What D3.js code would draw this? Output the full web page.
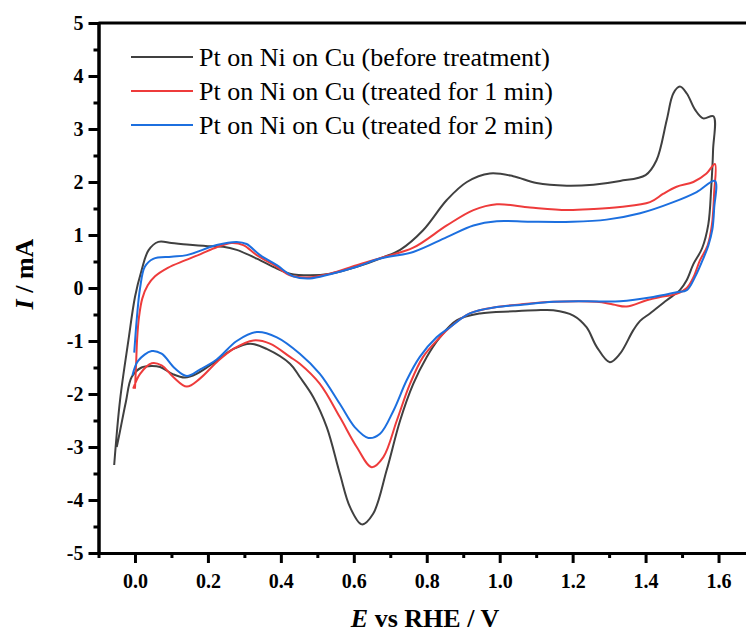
<!DOCTYPE html>
<html>
<head>
<meta charset="utf-8">
<script src="https://cdn.jsdelivr.net/npm/d3@7"></script>
<style>
  html, body { margin: 0; padding: 0; background: #fff; }
  svg { display: block; }
</style>
</head>
<body>
<svg id="chart" width="746" height="636"></svg>
<script>
// Cyclic voltammograms, [potential E (V vs RHE), current I (mA)],
// anodic sweep first, then the cathodic sweep back.
const beforeTreatment = [
  [-0.057,-3.34],[-0.041,-2.12],[-0.018,-0.99],[0.0,-0.17],[0.018,0.33],[0.037,0.71],
  [0.064,0.87],[0.10,0.85],[0.142,0.82],[0.20,0.79],[0.242,0.78],[0.279,0.72],
  [0.334,0.555],[0.389,0.366],[0.425,0.27],[0.48,0.24],[0.535,0.27],[0.608,0.40],
  [0.681,0.58],[0.727,0.72],[0.79,1.09],[0.855,1.66],[0.91,2.0],[0.973,2.16],
  [1.037,2.11],[1.101,1.98],[1.184,1.93],[1.257,1.95],[1.33,2.02],[1.40,2.13],
  [1.43,2.41],[1.458,3.17],[1.476,3.67],[1.494,3.80],[1.513,3.67],[1.536,3.36],
  [1.558,3.2],[1.586,3.24],
  [1.585,2.6],[1.58,1.9],[1.572,1.2],[1.555,0.75],[1.531,0.45],[1.513,0.15],
  [1.494,-0.04],[1.458,-0.23],[1.412,-0.48],[1.385,-0.62],[1.366,-0.80],[1.33,-1.24],
  [1.302,-1.40],[1.266,-1.11],[1.238,-0.74],[1.202,-0.52],[1.147,-0.42],[1.10,-0.42],
  [1.037,-0.44],[0.946,-0.48],[0.882,-0.61],[0.836,-0.93],[0.80,-1.30],[0.763,-1.81],
  [0.727,-2.50],[0.69,-3.44],[0.653,-4.26],[0.622,-4.46],[0.59,-4.14],[0.562,-3.51],
  [0.526,-2.63],[0.489,-2.06],[0.452,-1.68],[0.425,-1.43],[0.361,-1.15],[0.316,-1.05],
  [0.27,-1.15],[0.224,-1.37],[0.169,-1.62],[0.137,-1.69],[0.105,-1.63],[0.069,-1.49],
  [0.046,-1.47],[0.018,-1.50],[-0.009,-1.68],[-0.025,-2.15],[-0.041,-2.70],[-0.05,-3.0]
];
const treated1min = [
  [0.0,-1.90],[0.003,-1.45],[0.006,-0.95],[0.011,-0.55],[0.02,-0.2],[0.035,0.05],
  [0.055,0.22],[0.09,0.38],[0.137,0.52],[0.18,0.64],[0.224,0.77],[0.265,0.85],
  [0.297,0.81],[0.334,0.62],[0.389,0.40],[0.425,0.24],[0.471,0.20],[0.535,0.27],
  [0.608,0.43],[0.681,0.58],[0.763,0.76],[0.855,1.18],[0.928,1.47],[0.992,1.58],
  [1.083,1.52],[1.184,1.47],[1.257,1.49],[1.33,1.53],[1.412,1.62],[1.449,1.78],
  [1.485,1.91],[1.531,2.0],[1.567,2.16],[1.59,2.34],
  [1.588,1.8],[1.582,1.2],[1.57,0.8],[1.549,0.52],[1.531,0.2],[1.513,0.0],
  [1.485,-0.11],[1.44,-0.17],[1.403,-0.23],[1.348,-0.35],[1.311,-0.31],[1.266,-0.26],
  [1.147,-0.26],[1.056,-0.31],[0.992,-0.36],[0.918,-0.48],[0.864,-0.74],[0.836,-0.93],
  [0.79,-1.30],[0.754,-1.81],[0.718,-2.50],[0.681,-3.19],[0.649,-3.38],[0.608,-3.0],
  [0.562,-2.44],[0.507,-1.81],[0.452,-1.43],[0.425,-1.30],[0.37,-1.05],[0.325,-0.99],
  [0.27,-1.15],[0.224,-1.40],[0.178,-1.71],[0.142,-1.86],[0.105,-1.68],[0.073,-1.46],
  [0.046,-1.42],[0.014,-1.62],[-0.005,-1.90]
];
const treated2min = [
  [-0.002,-1.22],[0.005,-0.58],[0.014,0.0],[0.027,0.40],[0.05,0.55],[0.1,0.59],
  [0.142,0.62],[0.224,0.81],[0.279,0.87],[0.306,0.83],[0.343,0.62],[0.389,0.43],
  [0.434,0.22],[0.48,0.18],[0.535,0.26],[0.608,0.40],[0.672,0.555],[0.763,0.68],
  [0.855,0.96],[0.928,1.18],[0.992,1.26],[1.083,1.25],[1.2,1.25],[1.293,1.29],
  [1.385,1.41],[1.476,1.62],[1.54,1.81],[1.59,2.02],
  [1.588,1.5],[1.583,1.1],[1.572,0.8],[1.556,0.52],[1.535,0.2],[1.513,-0.04],
  [1.485,-0.08],[1.421,-0.17],[1.33,-0.25],[1.238,-0.25],[1.147,-0.26],[1.056,-0.32],
  [0.992,-0.36],[0.918,-0.48],[0.864,-0.74],[0.827,-0.93],[0.781,-1.30],[0.745,-1.74],
  [0.709,-2.31],[0.672,-2.75],[0.64,-2.83],[0.603,-2.63],[0.562,-2.19],[0.507,-1.62],
  [0.452,-1.24],[0.389,-0.93],[0.334,-0.83],[0.279,-1.00],[0.224,-1.35],[0.178,-1.54],
  [0.142,-1.66],[0.11,-1.52],[0.073,-1.24],[0.046,-1.19],[0.009,-1.37],[-0.007,-1.65]
];

const seriesNames = [
  "Pt on Ni on Cu (before treatment)",
  "Pt on Ni on Cu (treated for 1 min)",
  "Pt on Ni on Cu (treated for 2 min)"
];
const seriesColors = ["#404040", "#ee3b3b", "#1c6fdf"];
const seriesData = [beforeTreatment, treated1min, treated2min];

const xTicks = [0.0, 0.2, 0.4, 0.6, 0.8, 1.0, 1.2, 1.4, 1.6];
const xMinorTicks = [-0.1, 0.1, 0.3, 0.5, 0.7, 0.9, 1.1, 1.3, 1.5];
const yTicks = [-5, -4, -3, -2, -1, 0, 1, 2, 3, 4, 5];
const yMinorTicks = [-4.5, -3.5, -2.5, -1.5, -0.5, 0.5, 1.5, 2.5, 3.5, 4.5];

const SERIF = "'Liberation Serif', 'Times New Roman', Times, serif";

const svg = d3.select("#chart");
const x = d3.scaleLinear().domain([-0.1, 1.7]).range([98.5, 755]);
const y = d3.scaleLinear().domain([-5, 5]).range([553, 23]);

// curves
const line = d3.line()
  .x(d => x(d[0]))
  .y(d => y(d[1]))
  .curve(d3.curveCatmullRom.alpha(0.5));

svg.append("g").selectAll("path")
  .data(seriesData)
  .join("path")
  .attr("d", line)
  .attr("fill", "none")
  .attr("stroke", (d, i) => seriesColors[i])
  .attr("stroke-width", 2)
  .attr("stroke-linejoin", "round");

// top frame line
svg.append("line")
  .attr("x1", x(-0.1)).attr("x2", x(1.7))
  .attr("y1", y(5)).attr("y2", y(5))
  .attr("stroke", "#000").attr("stroke-width", 3);

function styleAxis(g) {
  g.selectAll("path, line").attr("stroke", "#000").attr("stroke-width", 3);
  g.select(".domain").attr("stroke-linecap", "square");
  g.selectAll("text")
    .style("font-family", SERIF)
    .style("font-weight", "bold")
    .style("font-size", "20px")
    .attr("fill", "#000");
}

// axes
svg.append("g")
  .attr("transform", `translate(0,${y(-5)})`)
  .call(d3.axisBottom(x).tickValues(xMinorTicks).tickSize(5).tickSizeOuter(0).tickFormat(""))
  .call(styleAxis);
svg.append("g")
  .attr("transform", `translate(0,${y(-5)})`)
  .call(d3.axisBottom(x).tickValues(xTicks).tickSize(10).tickSizeOuter(0).tickPadding(11)
    .tickFormat(d => d.toFixed(1)))
  .call(styleAxis);

svg.append("g")
  .attr("transform", `translate(${x(-0.1)},0)`)
  .call(d3.axisLeft(y).tickValues(yMinorTicks).tickSize(5).tickSizeOuter(0).tickFormat(""))
  .call(styleAxis);
svg.append("g")
  .attr("transform", `translate(${x(-0.1)},0)`)
  .call(d3.axisLeft(y).tickValues(yTicks).tickSize(10).tickSizeOuter(0).tickPadding(5)
    .tickFormat(d => String(d)))
  .call(styleAxis);

// axis titles
const title = svg.append("text")
  .attr("x", 425).attr("y", 627)
  .attr("text-anchor", "middle")
  .style("font-family", SERIF)
  .style("font-weight", "bold").style("font-size", "26px");
title.append("tspan").style("font-style", "italic").text("E");
title.append("tspan").text(" vs RHE / V");

const ytitle = svg.append("text")
  .attr("transform", "translate(33,274) rotate(-90)")
  .attr("text-anchor", "middle")
  .style("font-family", SERIF)
  .style("font-weight", "bold").style("font-size", "26px");
ytitle.append("tspan").style("font-style", "italic").text("I");
ytitle.append("tspan").text(" / mA");

// legend
const legend = svg.append("g");
seriesNames.forEach((name, i) => {
  const ly = 57 + i * 34;
  legend.append("line")
    .attr("x1", 131).attr("x2", 193)
    .attr("y1", ly).attr("y2", ly)
    .attr("stroke", seriesColors[i]).attr("stroke-width", 2);
  legend.append("text")
    .attr("x", 199).attr("y", ly + 9)
    .style("font-family", SERIF)
    .style("font-size", "26px")
    .attr("fill", "#000")
    .text(name);
});
</script>
</body>
</html>
